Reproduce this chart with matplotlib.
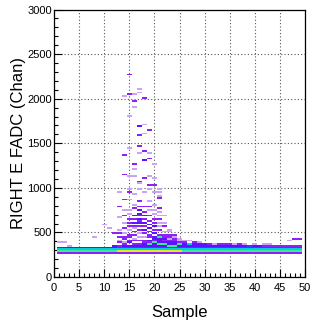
import numpy as np
import matplotlib
matplotlib.use("Agg")
import matplotlib.pyplot as plt
from matplotlib.colors import ListedColormap, Normalize

# ---------------- data ----------------
# occupied cells per sample column: FADC values and occupancy level (1 = lowest)
peak_samples = [1, 2, 3, 8, 10, 11, 12, 13, 14, 15, 16, 17, 18, 19, 20, 21, 22, 23, 24, 25,
                26, 27, 28, 29, 30, 31, 32, 33, 34, 35, 36, 37, 38, 39, 40,
                41, 42, 43, 44, 45, 46, 47, 48, 49]
peak_values = [
    [385], [385], [355], [450], [585], [540], [490, 355, 345],
    [940, 785, 660, 520, 480, 440, 410, 380, 355],
    [2025, 1363, 1152, 874, 750, 680, 600, 540, 480, 440, 420, 395, 370, 350],
    [2270, 2050, 1803, 1448, 1126, 997, 945, 864, 750, 700, 650, 600, 560, 520, 470, 440, 410, 380, 350],
    [2044, 1970, 1900, 1263, 1207, 1126, 920, 815, 770, 680, 640, 600, 570, 540, 500, 470, 430, 400, 365, 345],
    [2100, 2070, 1692, 1589, 1474, 1397, 1067, 1041, 985, 851, 790, 740, 700, 680, 650, 620, 600, 560, 520, 480, 440, 400, 365, 345],
    [2007, 1714, 1614, 1418, 1315, 1115, 940, 790, 720, 680, 640, 600, 560, 520, 480, 440, 410, 380, 360, 345],
    [1644, 1385, 1333, 1133, 1030, 985, 851, 790, 740, 680, 620, 580, 540, 500, 470, 440, 415, 395, 375, 360, 345],
    [1263, 1107, 1037, 945, 800, 740, 700, 650, 600, 560, 520, 480, 455, 430, 410, 395, 380, 360, 345],
    [990, 940, 911, 880, 760, 720, 690, 650, 600, 560, 520, 475, 455, 440, 425, 410, 390, 375, 360, 345],
    [690, 600, 560, 500, 470, 450, 430, 410, 390, 375, 360, 345],
    [520, 500, 470, 440, 420, 400, 385, 370, 355, 345],
    [470, 440, 420, 400, 385, 370, 355, 345],
    [430, 410, 390, 375, 360, 345],
    [400, 380, 365, 350], [400, 375, 360, 345], [380, 365, 350], [380, 360, 345], [375, 360, 345],
    [365, 350], [365, 345], [360, 345], [365, 350], [360, 345],
    [360, 345], [365, 350], [360, 345], [355, 345], [360, 345],
    [355, 345], [360, 345], [360, 345], [345], [350], [345], [405, 345], [432, 345], [425, 345],
]
peak_counts = [
    [1], [1], [1], [1], [1], [1], [2, 1, 2],
    [1, 2, 1, 1, 2, 2, 1, 2, 2],
    [1, 2, 2, 2, 1, 2, 1, 2, 1, 2, 2, 1, 2, 3],
    [2, 2, 1, 1, 1, 1, 2, 1, 1, 1, 2, 2, 2, 1, 2, 2, 2, 3, 3],
    [1, 2, 1, 2, 1, 1, 1, 1, 2, 3, 2, 3, 2, 1, 2, 2, 1, 2, 2, 3],
    [1, 1, 3, 2, 2, 1, 2, 1, 1, 2, 2, 3, 3, 2, 3, 2, 3, 2, 2, 1, 1, 2, 2, 3],
    [2, 1, 1, 2, 3, 2, 1, 2, 2, 3, 2, 3, 2, 3, 2, 1, 2, 2, 3, 3],
    [2, 1, 2, 1, 2, 1, 1, 2, 1, 2, 2, 3, 3, 2, 2, 2, 3, 2, 3, 3, 3],
    [1, 1, 2, 1, 1, 1, 1, 2, 2, 3, 2, 3, 3, 3, 2, 3, 3, 3, 3],
    [1, 1, 1, 2, 2, 1, 1, 2, 1, 1, 2, 2, 3, 3, 3, 3, 3, 3, 3, 3],
    [1, 1, 2, 1, 2, 2, 3, 2, 3, 3, 3, 3],
    [1, 1, 2, 2, 1, 2, 3, 3, 3, 3],
    [2, 1, 2, 2, 3, 3, 3, 3],
    [1, 1, 2, 3, 3, 3],
    [1, 2, 3, 3], [1, 2, 3, 3], [2, 3, 3], [1, 3, 3], [1, 2, 3],
    [2, 3], [1, 3], [2, 3], [2, 3], [2, 3],
    [1, 3], [2, 3], [1, 3], [1, 3], [1, 3],
    [1, 2], [1, 2], [1, 2], [2], [2], [2], [1, 2], [2, 2], [2, 2],
]

# pedestal rows (around 300 chan) present for samples 1..49
base_samples = list(range(1, 50))
base_row_values = [270, 290, 310, 330]
base_low = [2] * 12 + [2] * 13 + [2] * 24          # ~270
base_mid = [6] * 12 + [7] * 13 + [6] * 24          # ~290
base_up = [5] * 49                                 # ~310
base_top = [3] * 12 + [4] * 13 + [4] * 24          # ~330

x_ticks = [0, 5, 10, 15, 20, 25, 30, 35, 40, 45, 50]
y_ticks = [0, 500, 1000, 1500, 2000, 2500, 3000]
level_colors = ["#c9a4f6", "#8c22f5", "#5a12ff", "#2446ff", "#00cce6", "#3cec8c", "#e8e81a"]

# ---------------- assemble histogram ----------------
xs, ys, ws = [], [], []
for s, vals, cnts in zip(peak_samples, peak_values, peak_counts):
    xs += [s] * len(vals)
    ys += vals
    ws += cnts
for row_val, row_cnt in zip(base_row_values, [base_low, base_mid, base_up, base_top]):
    xs += base_samples
    ys += [row_val] * len(base_samples)
    ws += row_cnt

x_edges = np.arange(-0.5, 51.0, 1.0)
y_edges = np.arange(0, 3001, 20)
H, _, _ = np.histogram2d(xs, ys, bins=[x_edges, y_edges], weights=ws)
H = np.ma.masked_equal(H, 0)

plt.rcParams["font.family"] = ["Liberation Sans", "DejaVu Sans"]
fig = plt.figure(figsize=(3.12, 3.30), dpi=100)
ax = fig.add_axes([54 / 312, 1 - 277 / 330, 251 / 312, 267.5 / 330])

cmap = ListedColormap(level_colors)
ax.pcolormesh(x_edges, y_edges, H.T, cmap=cmap, norm=Normalize(0.5, 7.5), zorder=2,
              antialiased=False, edgecolors="none", snap=True)

ax.set_xlim(0, 50)
ax.set_ylim(0, 3000)
ax.set_xticks(x_ticks)
ax.set_yticks(y_ticks)
ax.set_xticks(np.arange(0, 51, 1), minor=True)
ax.set_yticks(np.arange(0, 3001, 100), minor=True)
ax.tick_params(axis="both", which="both", direction="in", top=False, right=False,
               labelsize=8, width=0.8)
ax.tick_params(axis="both", which="major", length=6)
ax.tick_params(axis="x", which="major", pad=4)
ax.tick_params(axis="y", which="major", pad=1.5)
ax.tick_params(axis="both", which="minor", length=3)
ax.grid(True, which="major", linestyle=(0, (1, 2)), color="#555555", linewidth=0.8, zorder=1)
ax.set_axisbelow(True)
for s in ax.spines.values():
    s.set_linewidth(0.9)

ax.set_xlabel("Sample", fontsize=12, labelpad=9)
ax.set_ylabel("RIGHT E FADC (Chan)", fontsize=12, labelpad=1)

fig.savefig("out.png", dpi=100)
